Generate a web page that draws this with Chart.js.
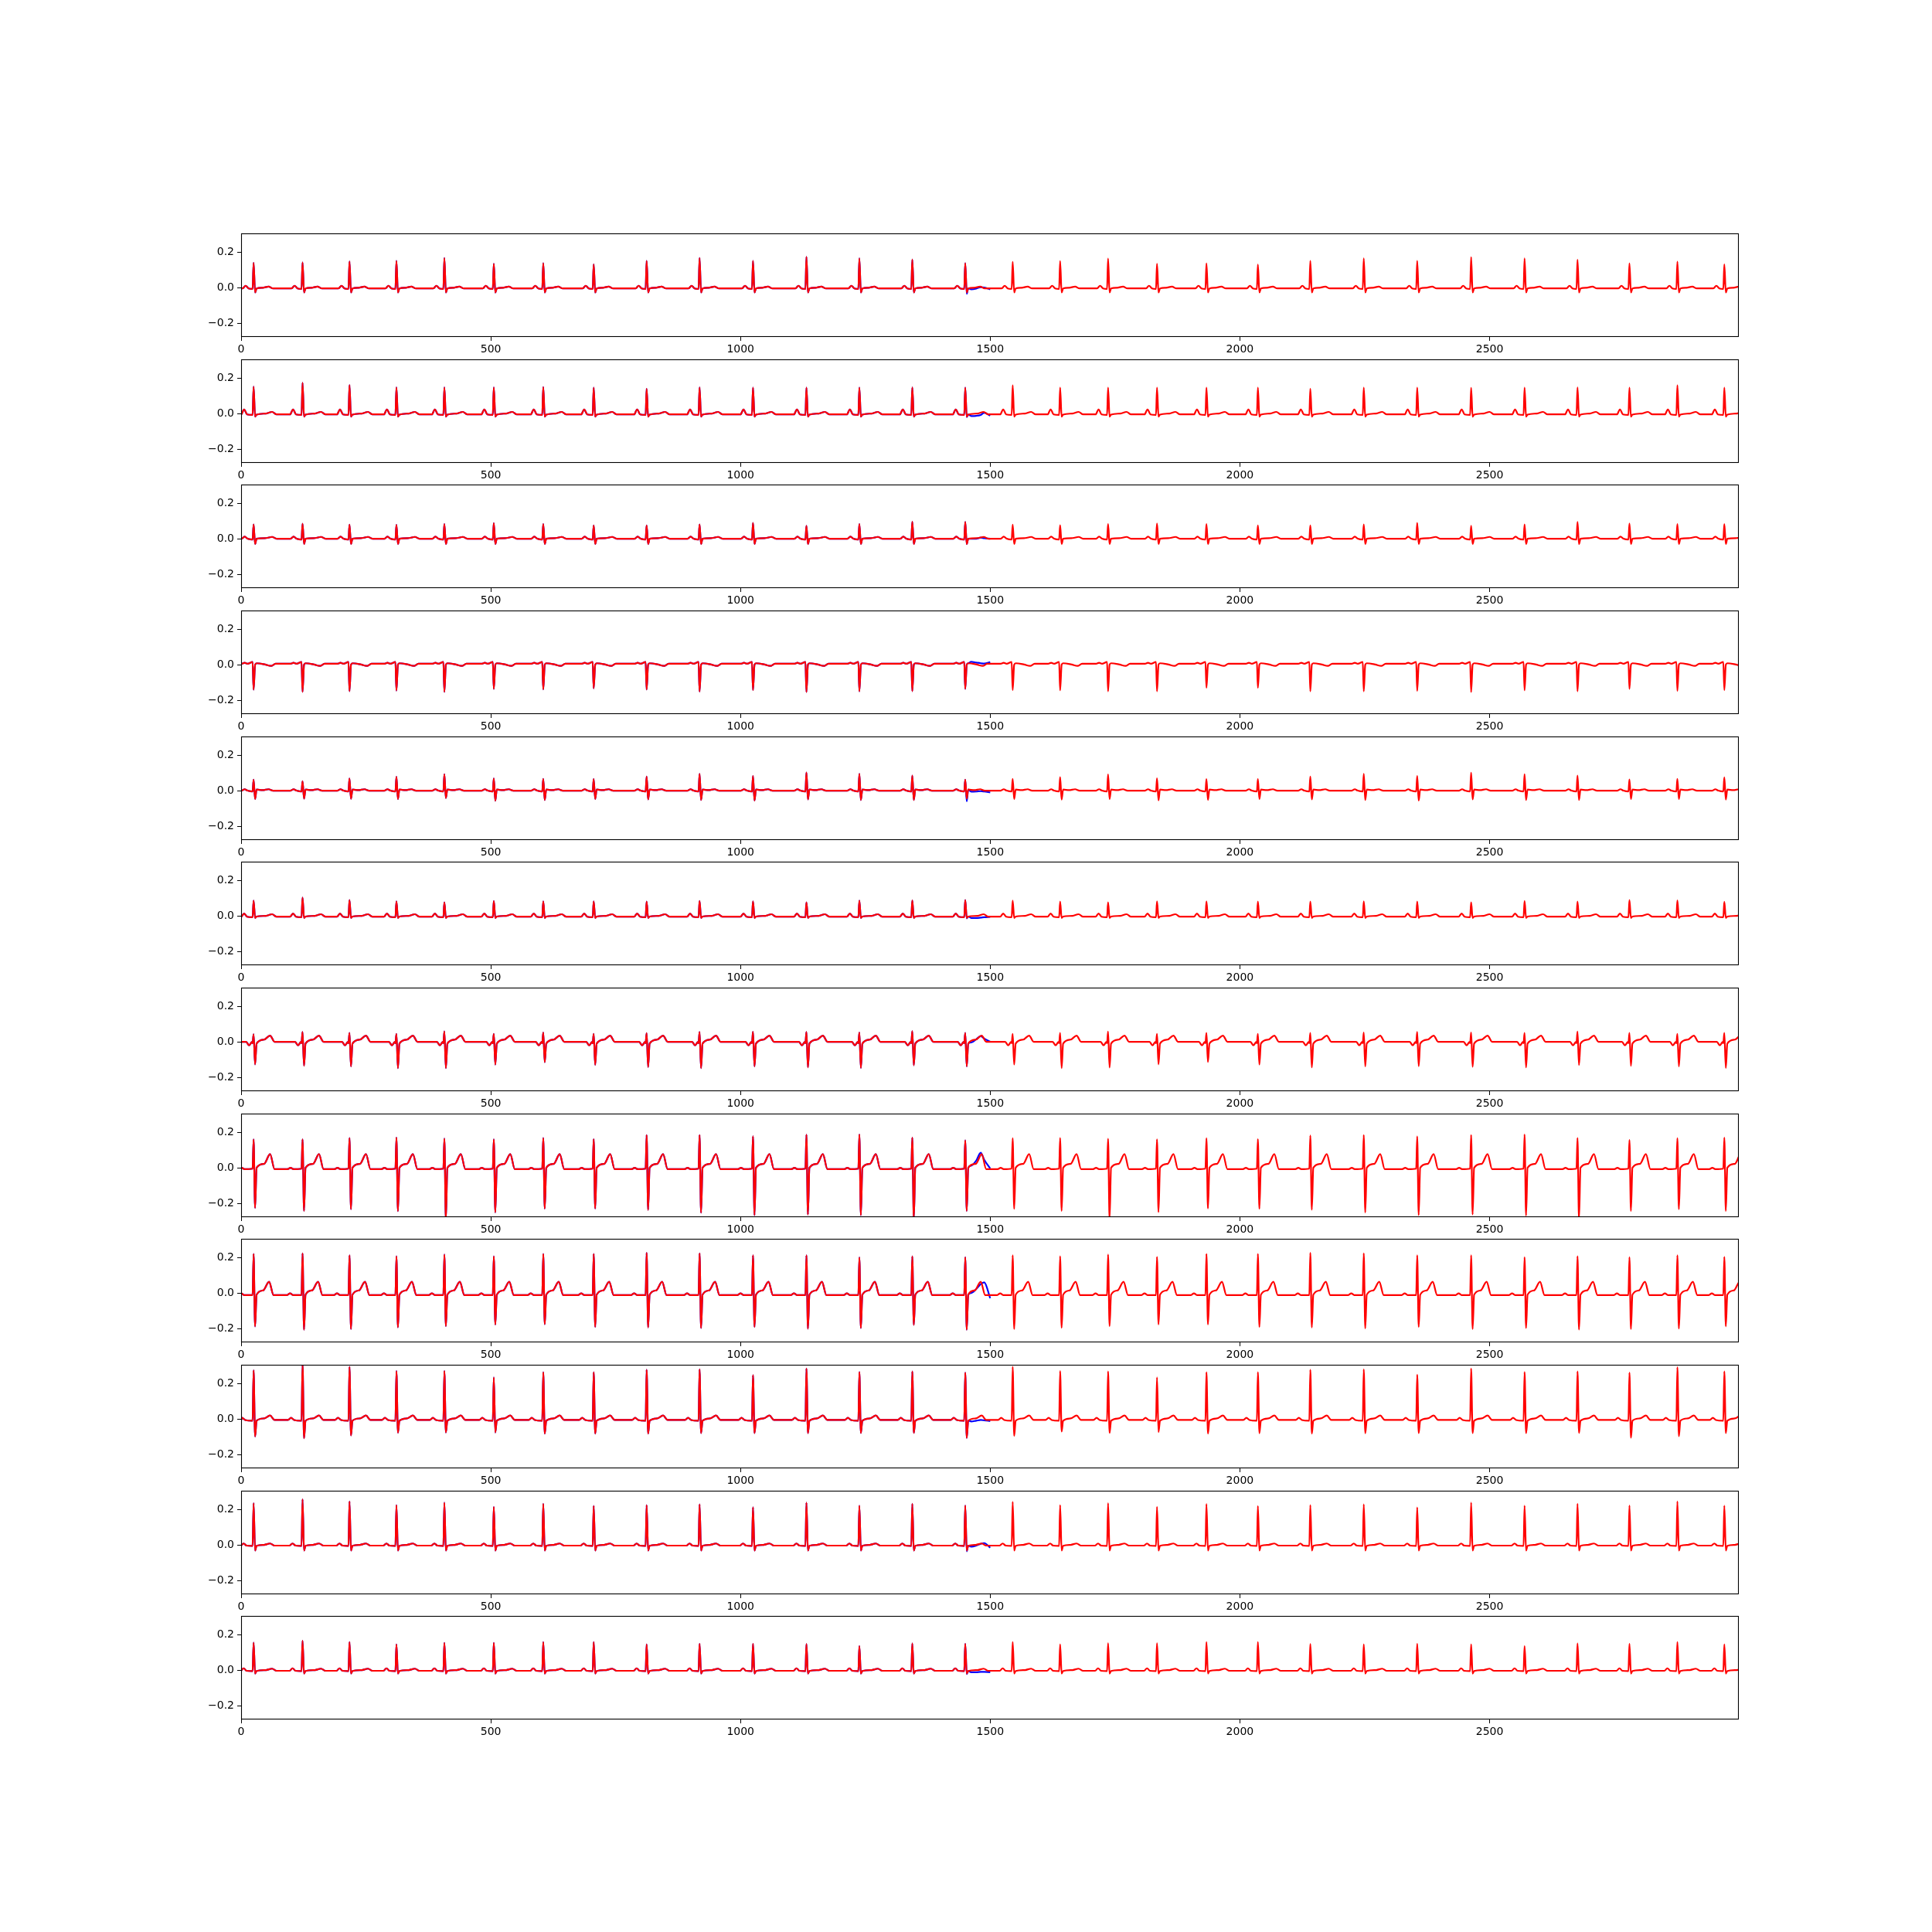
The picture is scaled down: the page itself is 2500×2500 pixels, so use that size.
<!DOCTYPE html>
<html>
<head>
<meta charset="utf-8">
<script src="https://cdn.jsdelivr.net/npm/chart.js@4.4.0/dist/chart.umd.min.js"></script>
<style>
html,body{margin:0;padding:0;background:#fff;}
#wrap{position:relative;width:2500px;height:2500px;background:#fff;overflow:hidden;}
#wrap canvas{position:absolute;left:0;}
</style>
</head>
<body>
<div id="wrap"></div>
<script>
// ---- data ----
const beatX = [25,123,217,311,407,506,605,706,812,918,1025,1132,1238,1344,1450,1545,1640,1736,1834,1933,2036,2141,2248,2355,2463,2570,2676,2780,2876,2970];
const xTicks = [0,500,1000,1500,2000,2500];
const yTicks = [-0.2,0.0,0.2];

// main spike (R, or deepest deflection) per beat, per lead
const rLead1  = [0.139,0.141,0.147,0.150,0.166,0.134,0.137,0.130,0.150,0.166,0.150,0.173,0.164,0.157,0.137,0.144,0.149,0.163,0.134,0.136,0.129,0.150,0.164,0.150,0.171,0.164,0.156,0.136,0.146,0.130];
const rLead2  = [0.151,0.173,0.160,0.147,0.147,0.147,0.149,0.146,0.139,0.147,0.146,0.146,0.146,0.147,0.146,0.159,0.146,0.146,0.146,0.146,0.146,0.139,0.146,0.146,0.144,0.146,0.147,0.146,0.159,0.146];
const rLead3  = [0.080,0.085,0.079,0.078,0.082,0.088,0.082,0.075,0.075,0.080,0.089,0.073,0.082,0.096,0.095,0.079,0.076,0.082,0.086,0.082,0.075,0.075,0.080,0.089,0.073,0.080,0.095,0.086,0.082,0.083];
const rLead4  = [-0.141,-0.153,-0.149,-0.146,-0.153,-0.136,-0.139,-0.133,-0.140,-0.151,-0.143,-0.154,-0.150,-0.149,-0.136,-0.143,-0.144,-0.150,-0.150,-0.130,-0.130,-0.150,-0.150,-0.147,-0.154,-0.144,-0.150,-0.136,-0.147,-0.143];
const rLead5  = [0.062,0.053,0.068,0.078,0.092,0.068,0.066,0.065,0.079,0.094,0.083,0.102,0.094,0.085,0.062,0.066,0.076,0.091,0.069,0.065,0.065,0.079,0.094,0.083,0.101,0.092,0.085,0.063,0.066,0.075];
const rLead6  = [0.086,0.103,0.089,0.081,0.076,0.084,0.081,0.081,0.080,0.084,0.081,0.076,0.086,0.087,0.089,0.086,0.080,0.076,0.081,0.081,0.080,0.080,0.081,0.080,0.076,0.084,0.080,0.089,0.087,0.079];
const rLead7  = [0.042,0.055,0.050,0.045,0.059,0.045,0.052,0.045,0.049,0.055,0.056,0.055,0.052,0.060,0.050,0.045,0.050,0.058,0.045,0.050,0.045,0.050,0.052,0.055,0.052,0.050,0.058,0.050,0.045,0.050];
const rLead8  = [0.160,0.160,0.167,0.170,0.164,0.160,0.167,0.161,0.184,0.184,0.177,0.186,0.187,0.169,0.154,0.166,0.167,0.163,0.160,0.166,0.161,0.181,0.184,0.176,0.184,0.187,0.167,0.156,0.166,0.169];
const rLead9  = [0.220,0.223,0.212,0.206,0.216,0.206,0.220,0.220,0.226,0.223,0.212,0.212,0.200,0.206,0.201,0.212,0.206,0.216,0.203,0.220,0.220,0.226,0.223,0.212,0.212,0.201,0.207,0.201,0.212,0.203];
const rLead10 = [0.274,0.310,0.293,0.269,0.270,0.234,0.263,0.263,0.277,0.279,0.247,0.284,0.264,0.267,0.261,0.293,0.269,0.267,0.234,0.263,0.263,0.277,0.279,0.249,0.284,0.264,0.267,0.261,0.291,0.267];
const rLead11 = [0.235,0.257,0.244,0.224,0.238,0.214,0.231,0.220,0.224,0.228,0.212,0.238,0.221,0.231,0.222,0.242,0.224,0.235,0.214,0.230,0.218,0.224,0.228,0.211,0.238,0.221,0.231,0.222,0.244,0.221];
const rLead12 = [0.154,0.165,0.157,0.144,0.153,0.153,0.158,0.157,0.145,0.148,0.148,0.147,0.135,0.150,0.148,0.157,0.144,0.151,0.151,0.157,0.157,0.147,0.145,0.148,0.145,0.135,0.150,0.148,0.157,0.145];

// trough right after the spike (per beat where it varies, else one value)
const sLead5  = [-0.047,-0.045,-0.046,-0.047,-0.042,-0.057,-0.053,-0.047,-0.049,-0.053,-0.056,-0.049,-0.053,-0.053,-0.045,-0.047,-0.050,-0.047,-0.055,-0.053,-0.047,-0.049,-0.053,-0.056,-0.049,-0.053,-0.053,-0.047,-0.047,-0.050];
const sLead7  = [-0.127,-0.135,-0.138,-0.148,-0.148,-0.128,-0.115,-0.130,-0.142,-0.148,-0.138,-0.144,-0.147,-0.132,-0.138,-0.128,-0.148,-0.145,-0.127,-0.114,-0.128,-0.144,-0.138,-0.137,-0.141,-0.144,-0.131,-0.135,-0.138,-0.147];
const sLead8  = [-0.226,-0.243,-0.233,-0.244,-0.290,-0.251,-0.230,-0.230,-0.237,-0.253,-0.267,-0.263,-0.267,-0.290,-0.243,-0.231,-0.243,-0.290,-0.250,-0.229,-0.231,-0.236,-0.251,-0.266,-0.263,-0.269,-0.290,-0.243,-0.233,-0.243];
const sLead9  = [-0.188,-0.207,-0.203,-0.193,-0.186,-0.178,-0.176,-0.191,-0.194,-0.197,-0.191,-0.201,-0.197,-0.180,-0.207,-0.203,-0.196,-0.186,-0.177,-0.177,-0.191,-0.194,-0.199,-0.191,-0.203,-0.197,-0.206,-0.203,-0.200,-0.188];
const sLead10 = [-0.099,-0.109,-0.093,-0.077,-0.076,-0.076,-0.083,-0.083,-0.083,-0.080,-0.080,-0.080,-0.079,-0.079,-0.107,-0.096,-0.071,-0.079,-0.074,-0.083,-0.081,-0.083,-0.081,-0.080,-0.080,-0.080,-0.079,-0.106,-0.097,-0.080];

const rLeads = [rLead1,rLead2,rLead3,rLead4,rLead5,rLead6,rLead7,rLead8,rLead9,rLead10,rLead11,rLead12];
const sLeads = [-0.028,-0.018,-0.030,0.000,sLead5,-0.012,sLead7,sLead8,sLead9,sLead10,-0.032,-0.020];

// per-lead wave levels
const baseLevel = [-0.005,-0.005,0.000,0.005,0.000,-0.005,0.000,-0.008,-0.012,-0.006,-0.004,-0.004];
const qLevel    = [-0.008,-0.008,-0.005,0.015,-0.005,-0.008,-0.008,-0.005,-0.012,-0.010,-0.006,-0.006];
const postLevel = [-0.005,-0.006,0.000,0.008,0.006,-0.004,-0.010,0.000,-0.010,-0.010,-0.005,-0.005];
const tAmp      = [0.010,0.014,0.010,-0.012,0.008,0.014,0.035,0.085,0.075,0.025,0.012,0.012];
const tOff      = [30,37,37,35,30,37,33,33,31,33,33,37];
const pAmp      = [0.015,0.028,0.012,0.006,0.008,0.018,-0.020,0.008,0.010,0.012,0.012,0.014];
const pOff      = [-16,-19,-18,-18,-18,-19,-9,-24,-25,-23,-20,-20];

// original (blue) trace where it departs from the red one, end of first half
const blueS = [-0.035,-0.020,-0.030,0.000,-0.060,-0.014,-0.138,-0.243,-0.207,-0.107,-0.036,-0.022];
const blueTailX = [1462,1472,1481,1488,1500];
const blueTail = [
  [-0.010,-0.006,0.002,0.000,-0.010],
  [-0.014,-0.013,-0.008,0.004,-0.012],
  [0.000,0.000,0.006,0.003,0.000],
  [0.016,0.012,0.008,0.006,0.014],
  [-0.006,-0.005,-0.003,-0.005,-0.010],
  [-0.012,-0.012,-0.010,-0.008,-0.006],
  [-0.004,0.014,0.032,0.018,0.000],
  [0.012,0.040,0.085,0.045,-0.004],
  [0.000,0.022,0.050,0.060,-0.030],
  [-0.014,-0.010,-0.006,-0.008,-0.012],
  [-0.010,-0.004,0.006,0.010,-0.016],
  [-0.012,-0.012,-0.010,-0.010,-0.012]
];

// ---- build traces ----
function at(v, j){ return Array.isArray(v) ? v[j] : v; }
function buildTrace(k){
  const b0 = baseLevel[k];
  const pts = [{x:0, y:b0}];
  for (let j = 0; j < beatX.length; j++){
    const b = beatX[j];
    const T = tAmp[k], P = pAmp[k], to = tOff[k], po = pOff[k];
    pts.push({x:b+po-6, y:b0});
    pts.push({x:b+po, y:b0+P});
    pts.push({x:b+po+6, y:b0});
    pts.push({x:b-2, y:qLevel[k]});
    pts.push({x:b, y:rLeads[k][j]});
    pts.push({x:b+3, y:at(sLeads[k], j)});
    pts.push({x:b+6, y:postLevel[k]});
    pts.push({x:b+to-12, y:b0+T*0.35});
    pts.push({x:b+to, y:b0+T});
    pts.push({x:b+to+9, y:b0});
  }
  pts.sort((a,c)=>a.x-c.x);
  return pts.filter(p=>p.x>=0);
}

// ---- layout (matplotlib 12x1 subplots) ----
const axLeft = 312, axRight = 2250, figTop = 300, figBottom = 2225;
const nRows = 12, hs = 0.2;
const axH = (figBottom - figTop) / (nRows + (nRows - 1) * hs);
const gap = axH * hs;
const padTop = 10, xAxisH = 32;

const framePlugin = {
  id: 'frame',
  afterDraw(chart){
    const a = chart.chartArea, ctx = chart.ctx;
    ctx.save();
    ctx.strokeStyle = '#000';
    ctx.lineWidth = 1.1;
    ctx.strokeRect(Math.round(a.left)+0.5, Math.round(a.top)+0.5, Math.round(a.right-a.left)-1, Math.round(a.bottom-a.top)-1);
    ctx.restore();
  }
};

const fmt = v => (Math.abs(v) < 1e-9 ? '0.0' : (v < 0 ? '\u2212' + Math.abs(v).toFixed(1) : v.toFixed(1)));

const wrap = document.getElementById('wrap');
for (let k = 0; k < nRows; k++){
  const top = Math.round(figTop + k * (axH + gap));
  const h = Math.round(axH);
  const cv = document.createElement('canvas');
  cv.width = 2500; cv.height = padTop + h + xAxisH;
  cv.style.width = '2500px'; cv.style.height = (padTop + h + xAxisH) + 'px';
  cv.style.top = (top - padTop) + 'px';
  wrap.appendChild(cv);

  const red = buildTrace(k);
  const b15 = beatX[14];
  const blue = red.filter(p => p.x <= b15)
    .concat([{x:b15+3, y:blueS[k]}, {x:b15+6, y:postLevel[k]}])
    .concat(blueTailX.map((x,i)=>({x:x, y:blueTail[k][i]})));

  new Chart(cv.getContext('2d'), {
    type: 'line',
    data: {
      datasets: [
        {data: red, borderColor: '#ff0000', borderWidth: 2.2, pointRadius: 0, cubicInterpolationMode: 'monotone', order: 0},
        {data: blue, borderColor: '#0000ff', borderWidth: 2.2, pointRadius: 0, cubicInterpolationMode: 'monotone', order: 1}
      ]
    },
    options: {
      responsive: false,
      animation: false,
      devicePixelRatio: 1,
      events: [],
      layout: {padding: {left: 0, right: 2500 - axRight, top: padTop, bottom: 0}},
      plugins: {legend: {display: false}, tooltip: {enabled: false}},
      scales: {
        x: {
          type: 'linear', min: 0, max: 2999,
          afterBuildTicks: s => { s.ticks = xTicks.map(v => ({value: v})); },
          afterFit: s => { s.height = xAxisH; },
          grid: {display: true, drawOnChartArea: false, drawTicks: true, tickLength: 5, color: '#000', lineWidth: 1},
          border: {display: false},
          ticks: {color: '#000', padding: 3, maxRotation: 0, autoSkip: false, font: {family: 'DejaVu Sans', size: 14}, callback: v => String(v)}
        },
        y: {
          type: 'linear', min: -0.278, max: 0.303,
          afterBuildTicks: s => { s.ticks = yTicks.map(v => ({value: v})); },
          afterFit: s => { s.width = axLeft; },
          grid: {display: true, drawOnChartArea: false, drawTicks: true, tickLength: 5, color: '#000', lineWidth: 1},
          border: {display: false},
          ticks: {color: '#000', padding: 4, font: {family: 'DejaVu Sans', size: 14}, callback: v => fmt(v)}
        }
      }
    },
    plugins: [framePlugin]
  });
}
</script>
</body>
</html>
